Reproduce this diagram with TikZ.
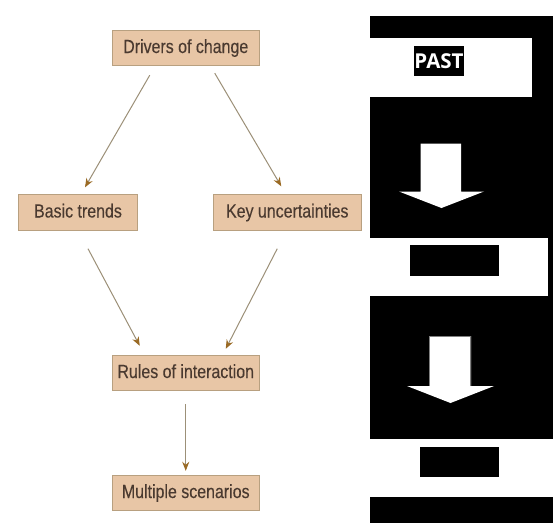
\documentclass[tikz,border=0pt]{standalone}
\usepackage{fontspec}
\setmainfont{Liberation Sans}
\newfontfamily\narrowfont[FakeStretch=0.84,FakeBold=0.25]{Liberation Sans}
\newfontfamily\pastfont{Open Sans}
\usetikzlibrary{arrows.meta}
\definecolor{boxfill}{HTML}{E8C6A6}
\definecolor{boxedge}{HTML}{B8A080}
\definecolor{labelcol}{HTML}{4A3A30}
\definecolor{linecol}{HTML}{9C9078}
\definecolor{tipcol}{HTML}{9A6A24}
\tikzset{
  flowbox/.style={draw=boxedge,line width=0.9pt,fill=boxfill,text=labelcol,inner sep=0pt,
    minimum height=35.5pt,text height=14pt,text depth=4pt,font=\narrowfont\fontsize{19}{21}\selectfont},
  flowarrow/.style={draw=linecol,line width=1pt,
    -{Stealth[length=9pt,width=7pt,color=tipcol]}},
  blackbar/.style={fill=black,draw=none,inner sep=0pt},
  whiteband/.style={fill=white,draw=none,inner sep=0pt},
  bigarrow/.style={fill=white,draw=none},
}
\begin{document}
\begin{tikzpicture}[x=1pt,y=-1pt]
\useasboundingbox (0,0) rectangle (553,523);
\fill[white] (0,0) rectangle (553,523);
% right panel
\fill[black] (370,16) rectangle (553,523);
\fill[whiteband] (370,38) rectangle (532,97);
\fill[whiteband] (370,238) rectangle (548,296);
\fill[whiteband] (370,439) rectangle (553,497);
\node[blackbar,text=white,minimum width=50pt,minimum height=30pt,font=\pastfont\fontsize{20.5}{22}\selectfont\bfseries] (past) at (439,61) {PAST};
\node[blackbar,minimum width=89pt,minimum height=30.5pt] (mid) at (454.5,260.5) {};
\node[blackbar,minimum width=79.5pt,minimum height=29.5pt] (low) at (459.25,461.75) {};
\fill[bigarrow] (420.5,143.5) -- (461,143.5) -- (461,191.5) -- (484,191.5) -- (441.5,208) -- (399,191.5) -- (420.5,191.5) -- cycle;
\fill[bigarrow] (429,336) -- (471,336) -- (471,386) -- (494,386) -- (450.5,403) -- (407,386) -- (429,386) -- cycle;
\draw[draw=gray,line width=1.5pt] (429.5,386) -- (429.5,336.5) -- (470.5,336.5) -- (470.5,386);
% flow boxes
\node[flowbox,minimum width=146.5pt] (drivers) at (185.75,48) {Drivers of change};
\node[flowbox,minimum width=119.5pt] (basic) at (78,212.5) {Basic trends};
\node[flowbox,minimum width=147.5pt] (key) at (287.25,212.5) {Key uncertainties};
\node[flowbox,minimum width=146.5pt] (rules) at (185.75,373) {Rules of interaction};
\node[flowbox,minimum width=146.5pt] (multi) at (185.75,493) {Multiple scenarios};
% connectors
\draw[flowarrow] ([xshift=-36pt,yshift=-9pt]drivers.south) -- ([xshift=7pt,yshift=7pt]basic.north);
\draw[flowarrow] ([xshift=29pt,yshift=-7pt]drivers.south) -- ([xshift=-6pt,yshift=8pt]key.north);
\draw[flowarrow] ([xshift=10pt,yshift=-18pt]basic.south) -- ([xshift=-46pt,yshift=9pt]rules.north);
\draw[flowarrow] ([xshift=-10pt,yshift=-18pt]key.south) -- ([xshift=40pt,yshift=6pt]rules.north);
\draw[flowarrow] ([yshift=-13pt]rules.south) -- ([yshift=4pt]multi.north);
\end{tikzpicture}
\end{document}
